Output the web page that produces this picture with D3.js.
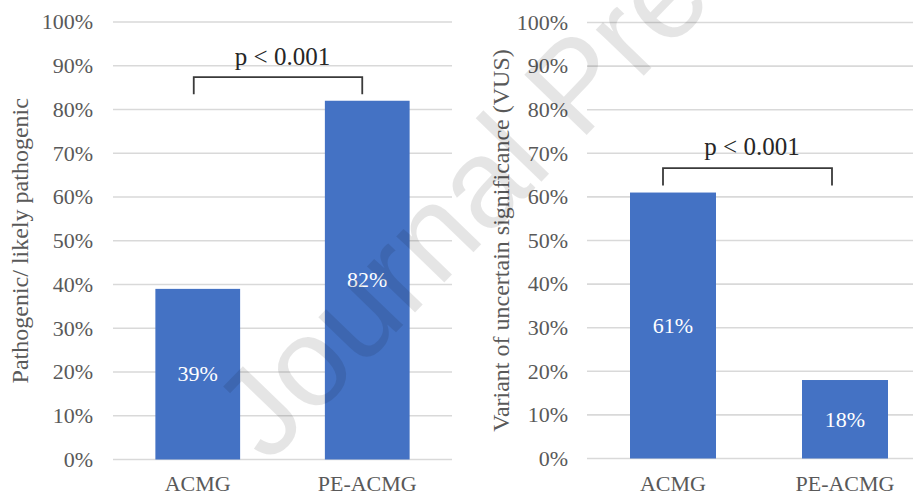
<!DOCTYPE html>
<html>
<head>
<meta charset="utf-8">
<script src="https://cdn.jsdelivr.net/npm/d3@7"></script>
<style>
  html, body { margin: 0; padding: 0; background: #fff; }
  svg { display: block; }
  .serif { font-family: "Liberation Serif", "Times New Roman", Times, serif; }
  .sans { font-family: "Liberation Sans", Arial, Helvetica, sans-serif; }
</style>
</head>
<body>
<svg id="chart" width="913" height="497"></svg>
<script>
// Share of variants per classification scheme (percent)
const categories = ["ACMG", "PE-ACMG"];
const pathogenicValues = [39, 82];
const vusValues = [61, 18];
const yTicks = [0, 10, 20, 30, 40, 50, 60, 70, 80, 90, 100];
const axisTitles = ["Pathogenic/ likely pathogenic", "Variant of uncertain significance (VUS)"];
const pLabels = ["p < 0.001", "p < 0.001"];

const svg = d3.select("#chart");
const BAR = "#4472C4";
const GRID = "#d9d9d9";
const TEXT = "#595959";

const panels = [
  {
    values: pathogenicValues, title: axisTitles[0], pLabel: pLabels[0],
    xRange: [113, 452], yRange: [459.5, 22], tickX: 93, titleX: 28,
    bracket: { top: 87.4, foot: 83.5, dl: -4, dr: -5 }, pY: 90.2, pDx: 0
  },
  {
    values: vusValues, title: axisTitles[1], pLabel: pLabels[1],
    xRange: [587, 931], yRange: [458.5, 22.5], tickX: 568, titleX: 509,
    bracket: { top: 66.6, foot: 62.6, dl: -10, dr: -13 }, pY: 69.6, pDx: -7
  }
];

panels.forEach(p => {
  const g = svg.append("g").attr("class", "serif");
  const x = d3.scaleBand().domain(categories).range(p.xRange)
    .paddingInner(0.5).paddingOuter(0.25);
  const y = d3.scaleLinear().domain([0, 100]).range(p.yRange);

  // horizontal gridlines
  g.selectAll("line.grid").data(yTicks).join("line")
    .attr("class", "grid")
    .attr("x1", p.xRange[0]).attr("x2", p.xRange[1])
    .attr("y1", d => y(d)).attr("y2", d => y(d))
    .attr("stroke", GRID).attr("stroke-width", 1.6);

  // y tick labels
  g.selectAll("text.tick").data(yTicks).join("text")
    .attr("class", "tick")
    .attr("x", p.tickX).attr("y", d => y(d)).attr("dy", "0.33em")
    .attr("text-anchor", "end")
    .attr("font-size", 22).attr("fill", TEXT)
    .text(d => d + "%");

  // bars
  g.selectAll("rect.bar").data(p.values).join("rect")
    .attr("class", "bar")
    .attr("x", (d, i) => x(categories[i]))
    .attr("width", x.bandwidth())
    .attr("y", d => y(d))
    .attr("height", d => y(0) - y(d))
    .attr("fill", BAR);

  // value labels, centred in the bars
  g.selectAll("text.val").data(p.values).join("text")
    .attr("class", "val")
    .attr("x", (d, i) => x(categories[i]) + x.bandwidth() / 2)
    .attr("y", d => (y(0) + y(d)) / 2).attr("dy", "0.33em")
    .attr("text-anchor", "middle")
    .attr("font-size", 22).attr("fill", "#fff")
    .text(d => d + "%");

  // category labels
  g.selectAll("text.cat").data(categories).join("text")
    .attr("class", "cat")
    .attr("x", d => x(d) + x.bandwidth() / 2)
    .attr("y", 491)
    .attr("text-anchor", "middle")
    .attr("font-size", 22).attr("fill", TEXT)
    .text(d => d);

  // axis title
  const yMid = (p.yRange[0] + p.yRange[1]) / 2;
  g.append("text")
    .attr("transform", `translate(${p.titleX},${yMid}) rotate(-90)`)
    .attr("text-anchor", "middle")
    .attr("font-size", 24).attr("fill", TEXT)
    .text(p.title);

  // significance bracket
  const c0 = x(categories[0]) + x.bandwidth() / 2 + p.bracket.dl;
  const c1 = x(categories[1]) + x.bandwidth() / 2 + p.bracket.dr;
  g.append("path")
    .attr("d", `M${c0},${y(p.bracket.foot)}V${y(p.bracket.top)}H${c1}V${y(p.bracket.foot)}`)
    .attr("fill", "none").attr("stroke", "#3a3a3a").attr("stroke-width", 1.8);
  g.append("text")
    .attr("x", (x(categories[0]) + x(categories[1]) + x.bandwidth()) / 2 + p.pDx)
    .attr("y", y(p.pY))
    .attr("text-anchor", "middle")
    .attr("font-size", 25).attr("fill", "#262626")
    .text(p.pLabel);
});

// diagonal watermark
svg.append("text")
  .attr("class", "sans")
  .attr("transform", "translate(268,465) rotate(-46)")
  .attr("font-size", 126)
  .attr("fill", "#000").attr("fill-opacity", 0.1)
  .text("Journal Pre-proof");
</script>
</body>
</html>
